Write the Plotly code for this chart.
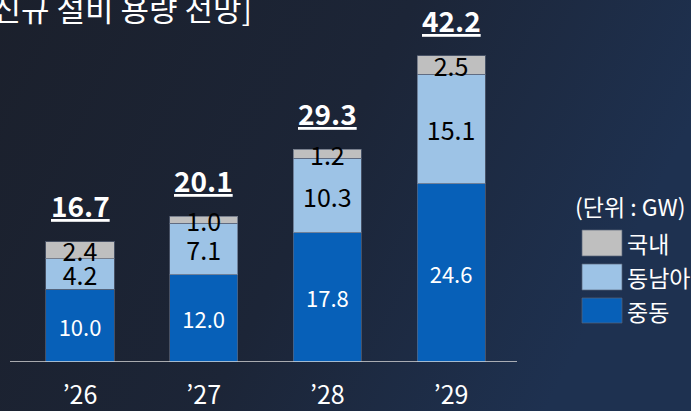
import base64
import plotly.graph_objects as go

years = ["’26", "’27", "’28", "’29"]
middle_east = [10.0, 12.0, 17.8, 24.6]
southeast_asia = [4.2, 7.1, 10.3, 15.1]
domestic = [2.4, 1.0, 1.2, 2.5]
totals = [16.7, 20.1, 29.3, 42.2]

series_names = ["중동", "동남아", "국내"]
series_colors = ["#0760B8", "#9DC3E6", "#BFBFBF"]
label_colors = ["white", "black", "black"]
label_sizes = [22, 25, 25]

FONT = "Noto Sans CJK KR"
W, H = 691, 411
L, R, T, B = 10, 174, 0, 49
PW = W - L - R


def px(x):
    return (x - L) / PW


def py(y):
    return 1 - (y - T) / (H - T - B)


bg_svg = (
    '<svg xmlns="http://www.w3.org/2000/svg" width="691" height="411">'
    '<defs><linearGradient id="g" x1="0" y1="0" x2="1" y2="0.3">'
    '<stop offset="0" stop-color="#1b202c"/>'
    '<stop offset="0.55" stop-color="#1c2537"/>'
    '<stop offset="1" stop-color="#1e3150"/>'
    '</linearGradient></defs>'
    '<rect width="691" height="411" fill="url(#g)"/></svg>'
)
bg_uri = "data:image/svg+xml;base64," + base64.b64encode(bg_svg.encode()).decode()

fig = go.Figure()
for name, vals, col, lc, ls in zip(series_names, [middle_east, southeast_asia, domestic],
                                   series_colors, label_colors, label_sizes):
    fig.add_trace(go.Bar(
        name=name,
        x=years,
        y=vals,
        width=0.55,
        marker=dict(color=col, line=dict(color="rgba(90,100,120,0.7)", width=1)),
        text=[f"{v:.1f}" for v in vals],
        textposition="inside",
        insidetextanchor="middle",
        constraintext="none",
        textangle=0,
        textfont=dict(family=FONT, size=ls, color=lc),
        hoverinfo="skip",
    ))

annotations = []
for yr, tot in zip(years, totals):
    annotations.append(dict(
        x=yr, y=tot, xref="x", yref="y",
        text=f"<b><u>{tot:.1f}</u></b>",
        showarrow=False, yanchor="bottom", yshift=14,
        font=dict(family=FONT, size=28, color="white"),
    ))

annotations.append(dict(
    x=px(254), y=py(8), xref="paper", yref="paper",
    xanchor="right", yanchor="middle",
    text="[신규 설비 용량 전망]", showarrow=False,
    font=dict(family=FONT, size=31, color="white"),
))
annotations.append(dict(
    x=px(573), y=py(206), xref="paper", yref="paper",
    xanchor="left", yanchor="middle",
    text="(단위 : GW)", showarrow=False,
    font=dict(family=FONT, size=23, color="white"),
))

shapes = [dict(type="line", xref="paper", yref="y", x0=0, x1=1, y0=0, y1=0,
               line=dict(color="#d9d9d9", width=1.5))]
legend_rows = [(230, 256), (264, 290), (298, 323)]
for (y0, y1), name, col in zip(legend_rows, series_names[::-1], series_colors[::-1]):
    shapes.append(dict(type="rect", xref="paper", yref="paper",
                       x0=px(582), x1=px(622), y0=py(y1), y1=py(y0),
                       fillcolor=col, line=dict(color="rgba(90,100,120,0.7)", width=1)))
    annotations.append(dict(
        x=px(625), y=py((y0 + y1) / 2), xref="paper", yref="paper",
        xanchor="left", yanchor="middle", text=name, showarrow=False,
        font=dict(family=FONT, size=23, color="white"),
    ))

fig.update_layout(
    width=W, height=H,
    barmode="stack",
    showlegend=False,
    paper_bgcolor="#1c2436",
    plot_bgcolor="rgba(0,0,0,0)",
    margin=dict(l=L, r=R, t=T, b=B, autoexpand=False),
    font=dict(family=FONT, color="white"),
    xaxis=dict(range=[-0.566, 3.533], showgrid=False, zeroline=False, showline=False,
               automargin=False,
               ticks="outside", ticklen=11, tickcolor="rgba(0,0,0,0)",
               tickfont=dict(family=FONT, size=25, color="white")),
    yaxis=dict(range=[0, 49.9], visible=False, automargin=False),
    annotations=annotations,
    shapes=shapes,
    images=[dict(source=bg_uri, xref="paper", yref="paper",
                 x=px(0), y=py(0), sizex=px(W) - px(0), sizey=py(0) - py(H),
                 xanchor="left", yanchor="top", sizing="stretch", layer="below")],
)

fig.write_html("out.html", config={"displayModeBar": False},
               post_script="document.body.style.margin='0';document.body.style.overflow='hidden';")
